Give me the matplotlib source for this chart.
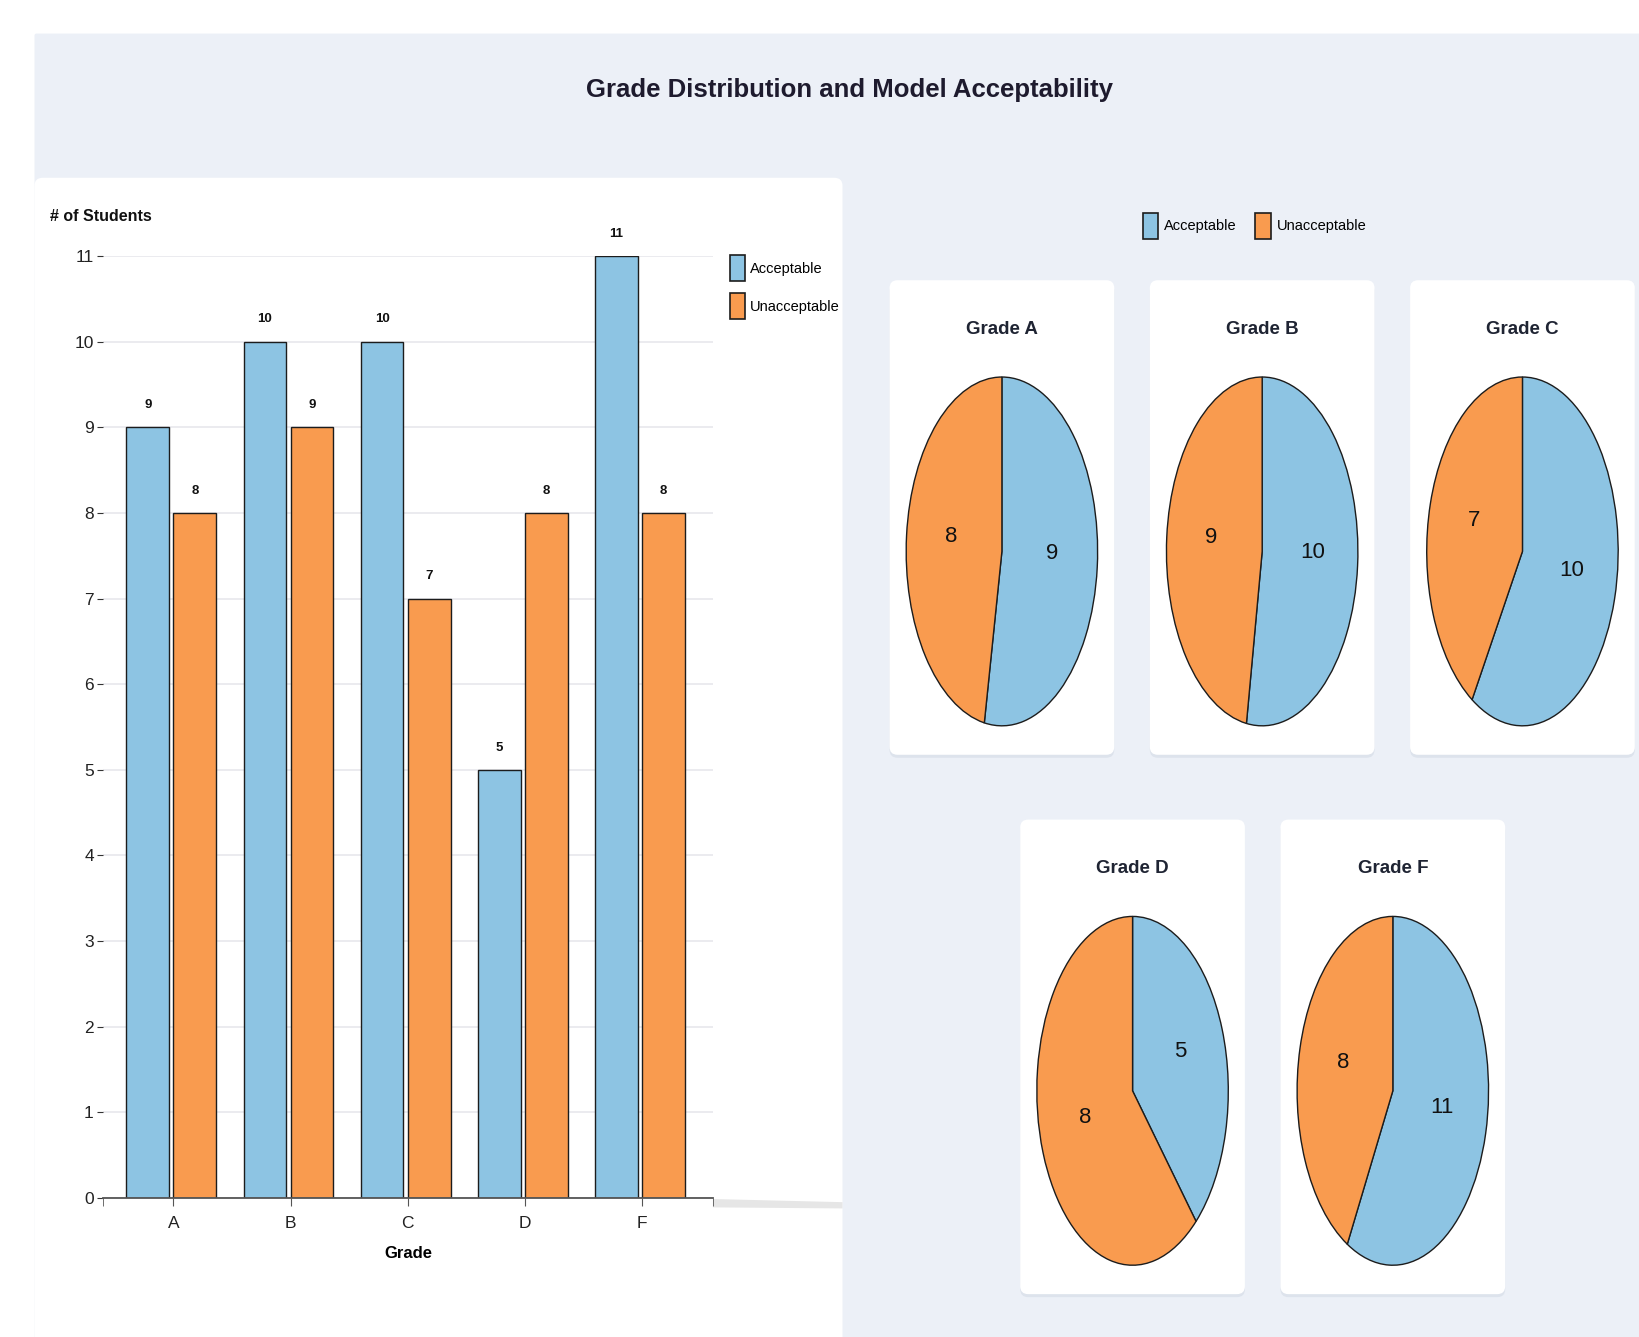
import numpy as np
import matplotlib
matplotlib.use("Agg")
import matplotlib.pyplot as plt
from matplotlib.patches import FancyBboxPatch, Polygon, Patch
from matplotlib.transforms import IdentityTransform

plt.rcParams['font.family'] = ['Liberation Sans Narrow', 'Liberation Sans', 'DejaVu Sans']

# data
grades = ["A", "B", "C", "D", "F"]
acceptable = [9, 10, 10, 5, 11]
unacceptable = [8, 9, 7, 8, 8]
series_names = ["Acceptable", "Unacceptable"]

BLUE = "#8DC4E3"
ORANGE = "#F99B4F"
EDGE = "#1c1c1c"
BG = "#ECF0F7"
TITLE_C = "#1E1B2E"

# layout is measured on a 1568x1279 canvas, scaled to the real pixel size
W, H = 1568, 1279
S = 1639 / W


def fbox(x0, y0, x1, y1):
    return [x0 / W, 1 - y1 / H, (x1 - x0) / W, (y1 - y0) / H]


def card(fig, x0, y0, x1, y1, color="white", r=8, shadow=True, z=-5):
    if shadow:
        sh = FancyBboxPatch((x0 * S, (H - y1) * S - 3), (x1 - x0) * S, (y1 - y0) * S,
                            boxstyle=f"round,pad=0,rounding_size={r}",
                            transform=IdentityTransform(), fc="#DDE3EC", ec="none", zorder=z - 1)
        fig.add_artist(sh)
    p = FancyBboxPatch((x0 * S, (H - y1) * S), (x1 - x0) * S, (y1 - y0) * S,
                       boxstyle=f"round,pad=0,rounding_size={r}",
                       transform=IdentityTransform(), fc=color, ec="none", zorder=z)
    fig.add_artist(p)


fig = plt.figure(figsize=(16.39, 13.37), dpi=100)
fig.patch.set_facecolor("white")

# background panel and left card
card(fig, 33, 32, W + 20, H + 20, color=BG, r=2, shadow=False, z=-9)
card(fig, 33, 170, 806, H + 20, color="white", r=8, shadow=False, z=-8)
fig.add_artist(Polygon([(682 * S, (H - 1147) * S), (806 * S, (H - 1150) * S),
                        (806 * S, (H - 1156) * S), (682 * S, (H - 1155) * S)],
                       closed=True, transform=IdentityTransform(), fc="#E6E6E6", ec="none", zorder=-7))

fig.text(813 / W, 1 - 86 / H, "Grade Distribution and Model Acceptability",
         ha="center", va="center", fontsize=18.5, fontweight="bold", color=TITLE_C)

# ---- grouped bar chart ----
ax = fig.add_axes(fbox(99, 245, 682, 1146))
ax.set_facecolor("none")
x = np.arange(len(grades))
bw = 0.366
ax.bar(x - 0.402, acceptable, width=bw, align="edge", color=BLUE, edgecolor=EDGE, linewidth=1, zorder=3)
ax.bar(x, unacceptable, width=bw, align="edge", color=ORANGE, edgecolor=EDGE, linewidth=1, zorder=3)
for xi, a, u in zip(x, acceptable, unacceptable):
    ax.text(xi - 0.402 + bw / 2, a + 0.26, str(a), ha="center", va="center",
            fontsize=9.5, fontweight="bold", color="#111")
    ax.text(xi + bw / 2, u + 0.26, str(u), ha="center", va="center",
            fontsize=9.5, fontweight="bold", color="#111")

ax.set_xlim(-0.598, 4.607)
ax.set_ylim(0, 11)
ax.set_yticks(range(0, 12))
ax.set_xticks(x)
ax.set_xticklabels(grades)
ax.set_xticks([-0.598, 4.607], minor=True)
ax.grid(axis="y", color="#E8E8EC", linewidth=1.2, zorder=0)
for s in ["top", "right", "left"]:
    ax.spines[s].set_visible(False)
ax.spines["bottom"].set_color("#555")
ax.spines["bottom"].set_linewidth(1.3)
ax.spines["bottom"].set_zorder(4)
ax.tick_params(axis="y", length=4, color="#333", pad=3, labelsize=12.5, labelcolor="#222")
ax.tick_params(axis="x", which="both", length=6, color="#555", pad=7, labelsize=12.5, labelcolor="#222")
ax.set_xlabel("Grade", fontsize=12, fontweight="bold", labelpad=11)
fig.text(48 / W, 1 - 207 / H, "# of Students", ha="left", va="center",
         fontsize=11.5, fontweight="bold", color="#111")

handles = [Patch(facecolor=BLUE, edgecolor=EDGE, linewidth=1.2),
           Patch(facecolor=ORANGE, edgecolor=EDGE, linewidth=1.2)]
fig.legend(handles, series_names, loc="upper left", bbox_to_anchor=(698 / W, 1 - 244 / H),
           frameon=False, fontsize=10.5, handlelength=1.05, handleheight=2.4,
           handletextpad=0.35, labelspacing=0.8, borderpad=0, borderaxespad=0)

# ---- pies ----
fig.legend(handles, series_names, loc="center", bbox_to_anchor=(1200 / W, 1 - 216 / H),
           ncol=2, frameon=False, fontsize=10.5, handlelength=1.05, handleheight=2.4,
           handletextpad=0.4, columnspacing=1.3, borderpad=0, borderaxespad=0)

card_boxes = [(851, 268), (1100, 268), (1349, 268), (976, 784), (1225, 784)]
cw, ch = 215, 454
for (cx0, cy0), g, a, u in zip(card_boxes, grades, acceptable, unacceptable):
    card(fig, cx0, cy0, cx0 + cw, cy0 + ch)
    mx = cx0 + cw / 2
    fig.text(mx / W, 1 - (cy0 + 47) / H, f"Grade {g}", ha="center", va="center",
             fontsize=13.5, fontweight="bold", color="#1F2433")
    pax = fig.add_axes(fbox(mx - 92.5, cy0 + 91, mx + 92.5, cy0 + 428))
    wedges, _ = pax.pie([a, u], colors=[BLUE, ORANGE], startangle=90, counterclock=False,
                        wedgeprops=dict(edgecolor=EDGE, linewidth=1))
    pax.set_aspect("auto")
    pax.set_xlim(-1.01, 1.01)
    pax.set_ylim(-1.01, 1.01)
    for w, v in zip(wedges, [a, u]):
        mid = np.deg2rad((w.theta1 + w.theta2) / 2)
        pax.text(0.53 * np.cos(mid), 0.53 * np.sin(mid) + 0.035, str(v), ha="center", va="center",
                 fontsize=16, color="#111")

fig.savefig("out.png", dpi=100, facecolor=fig.get_facecolor())
